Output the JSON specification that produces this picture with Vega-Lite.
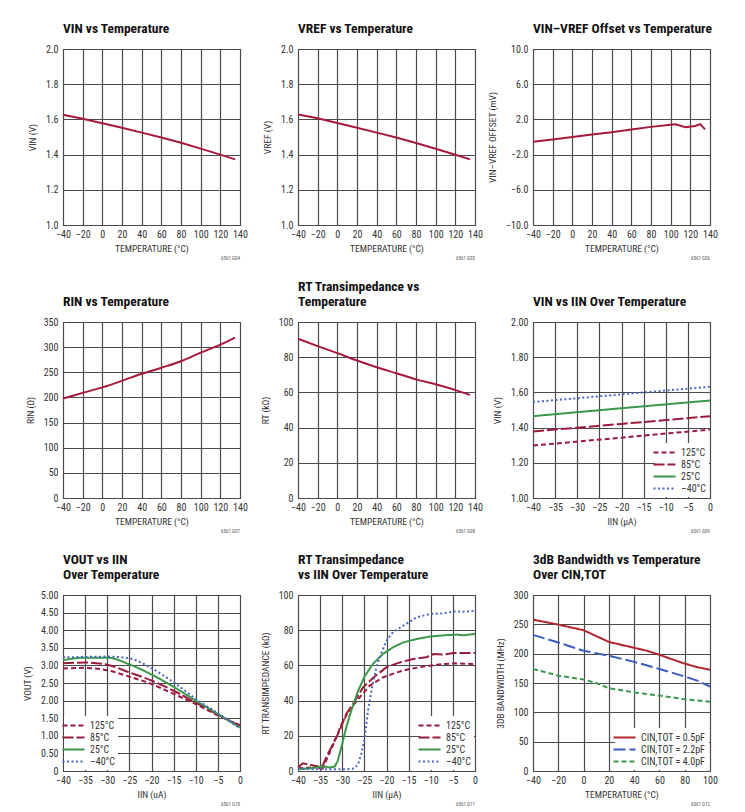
{
  "$schema": "https://vega.github.io/schema/vega-lite/v6.json",
  "background": "white",
  "padding": {"left": 22, "top": 21, "right": 5, "bottom": 5},
  "columns": 3,
  "bounds": "flush",
  "spacing": {"row": 97, "column": 58},
  "resolve": {"scale": {"color": "independent", "strokeDash": "independent", "x": "independent", "y": "independent"}, "legend": {"color": "independent", "strokeDash": "independent"}},
  "config": {
    "font": "Liberation Sans Narrow, Roboto Condensed, DejaVu Sans Condensed, Arial Narrow, Liberation Sans, sans-serif",
    "view": {"stroke": "#000000", "strokeWidth": 1},
    "axis": {"domain": false, "ticks": false, "grid": true, "gridColor": "#4a4a4a", "gridWidth": 1.2, "gridOpacity": 1, "labelFontSize": 10, "labelColor": "#333333", "labelPadding": 4, "labelFlush": false, "labelOverlap": false, "titleFontSize": 9.5, "titleFontWeight": "normal", "titleColor": "#333333"},
    "axisX": {"titlePadding": 4},
    "axisY": {"titlePadding": 8, "labelPadding": 5},
    "title": {"anchor": "start", "frame": "group", "fontSize": 13.5, "fontWeight": "bold", "color": "#111111", "offset": 9, "baseline": "bottom", "lineHeight": 15},
    "legend": {"symbolType": "M-2,0H2", "symbolSize": 121, "symbolStrokeWidth": 2, "labelFontSize": 10, "labelColor": "#333333", "fillColor": "white", "padding": 3, "rowPadding": 0, "offset": 1, "labelOffset": 10},
    "line": {"strokeWidth": 2},
    "text": {"fontSize": 5, "color": "#555555", "align": "right", "baseline": "middle"}
  },
  "concat": [
    {
      "width": 177, "height": 176,
      "title": {"text": "VIN vs Temperature"},
      "layer": [
        {
          "data": {"values": [{"t": -40, "v": 1.626}, {"t": -20, "v": 1.604}, {"t": 0, "v": 1.578}, {"t": 20, "v": 1.552}, {"t": 40, "v": 1.525}, {"t": 60, "v": 1.497}, {"t": 80, "v": 1.467}, {"t": 100, "v": 1.434}, {"t": 120, "v": 1.400}, {"t": 135, "v": 1.373}]},
          "mark": {"type": "line", "color": "#a6193c"},
          "encoding": {
            "x": {"field": "t", "type": "quantitative", "scale": {"domain": [-40, 140], "nice": false}, "axis": {"values": [-40, -20, 0, 20, 40, 60, 80, 100, 120, 140], "title": "TEMPERATURE (°C)"}},
            "y": {"field": "v", "type": "quantitative", "scale": {"domain": [1, 2], "nice": false, "zero": false}, "axis": {"values": [1, 1.2, 1.4, 1.6, 1.8, 2], "format": ".1f", "title": "VIN (V)"}}
          }
        },
        {
          "data": {"values": [{"code": "6561 G04"}]},
          "mark": {"type": "text", "dy": 33},
          "encoding": {"x": {"value": "width"}, "y": {"value": "height"}, "text": {"field": "code"}}
        }
      ]
    },
    {
      "width": 177, "height": 176,
      "title": {"text": "VREF vs Temperature"},
      "layer": [
        {
          "data": {"values": [{"t": -40, "v": 1.628}, {"t": -20, "v": 1.606}, {"t": 0, "v": 1.580}, {"t": 20, "v": 1.553}, {"t": 40, "v": 1.525}, {"t": 60, "v": 1.497}, {"t": 80, "v": 1.466}, {"t": 100, "v": 1.433}, {"t": 120, "v": 1.399}, {"t": 135, "v": 1.373}]},
          "mark": {"type": "line", "color": "#a6193c"},
          "encoding": {
            "x": {"field": "t", "type": "quantitative", "scale": {"domain": [-40, 140], "nice": false}, "axis": {"values": [-40, -20, 0, 20, 40, 60, 80, 100, 120, 140], "title": "TEMPERATURE (°C)"}},
            "y": {"field": "v", "type": "quantitative", "scale": {"domain": [1, 2], "nice": false, "zero": false}, "axis": {"values": [1, 1.2, 1.4, 1.6, 1.8, 2], "format": ".1f", "title": "VREF (V)"}}
          }
        },
        {
          "data": {"values": [{"code": "6561 G05"}]},
          "mark": {"type": "text", "dy": 33},
          "encoding": {"x": {"value": "width"}, "y": {"value": "height"}, "text": {"field": "code"}}
        }
      ]
    },
    {
      "width": 177, "height": 176,
      "title": {"text": "VIN–VREF Offset vs Temperature"},
      "layer": [
        {
          "data": {"values": [{"t": -40, "v": -0.55}, {"t": -20, "v": -0.28}, {"t": 0, "v": 0.0}, {"t": 20, "v": 0.28}, {"t": 40, "v": 0.55}, {"t": 60, "v": 0.85}, {"t": 80, "v": 1.15}, {"t": 100, "v": 1.4}, {"t": 105, "v": 1.45}, {"t": 115, "v": 1.1}, {"t": 125, "v": 1.25}, {"t": 130, "v": 1.47}, {"t": 135, "v": 0.86}]},
          "mark": {"type": "line", "color": "#a6193c"},
          "encoding": {
            "x": {"field": "t", "type": "quantitative", "scale": {"domain": [-40, 140], "nice": false}, "axis": {"values": [-40, -20, 0, 20, 40, 60, 80, 100, 120, 140], "title": "TEMPERATURE (°C)"}},
            "y": {"field": "v", "type": "quantitative", "scale": {"domain": [-10, 10], "nice": false}, "axis": {"values": [-10, -6, -2, 2, 6, 10], "format": ".1f", "title": "VIN–VREF OFFSET (mV)"}}
          }
        },
        {
          "data": {"values": [{"code": "6561 G06"}]},
          "mark": {"type": "text", "dy": 33},
          "encoding": {"x": {"value": "width"}, "y": {"value": "height"}, "text": {"field": "code"}}
        }
      ]
    },
    {
      "width": 177, "height": 176,
      "title": {"text": "RIN vs Temperature"},
      "layer": [
        {
          "data": {"values": [{"t": -40, "v": 198}, {"t": -20, "v": 209}, {"t": 0, "v": 220}, {"t": 20, "v": 233}, {"t": 40, "v": 247}, {"t": 60, "v": 259}, {"t": 80, "v": 272}, {"t": 100, "v": 289}, {"t": 120, "v": 305}, {"t": 135, "v": 319}]},
          "mark": {"type": "line", "color": "#a6193c", "interpolate": "monotone"},
          "encoding": {
            "x": {"field": "t", "type": "quantitative", "scale": {"domain": [-40, 140], "nice": false}, "axis": {"values": [-40, -20, 0, 20, 40, 60, 80, 100, 120, 140], "title": "TEMPERATURE (°C)"}},
            "y": {"field": "v", "type": "quantitative", "scale": {"domain": [0, 350], "nice": false}, "axis": {"values": [0, 50, 100, 150, 200, 250, 300, 350], "title": "RIN (Ω)"}}
          }
        },
        {
          "data": {"values": [{"code": "6561 G07"}]},
          "mark": {"type": "text", "dy": 33},
          "encoding": {"x": {"value": "width"}, "y": {"value": "height"}, "text": {"field": "code"}}
        }
      ]
    },
    {
      "width": 177, "height": 176,
      "title": {"text": ["RT Transimpedance vs", "Temperature"]},
      "layer": [
        {
          "data": {"values": [{"t": -40, "v": 90.5}, {"t": -20, "v": 86.3}, {"t": 0, "v": 82.3}, {"t": 20, "v": 78.1}, {"t": 40, "v": 74.3}, {"t": 60, "v": 70.9}, {"t": 80, "v": 67.4}, {"t": 100, "v": 64.6}, {"t": 120, "v": 61.3}, {"t": 135, "v": 58.6}]},
          "mark": {"type": "line", "color": "#a6193c", "interpolate": "monotone"},
          "encoding": {
            "x": {"field": "t", "type": "quantitative", "scale": {"domain": [-40, 140], "nice": false}, "axis": {"values": [-40, -20, 0, 20, 40, 60, 80, 100, 120, 140], "title": "TEMPERATURE (°C)"}},
            "y": {"field": "v", "type": "quantitative", "scale": {"domain": [0, 100], "nice": false}, "axis": {"values": [0, 20, 40, 60, 80, 100], "title": "RT (kΩ)"}}
          }
        },
        {
          "data": {"values": [{"code": "6561 G08"}]},
          "mark": {"type": "text", "dy": 33},
          "encoding": {"x": {"value": "width"}, "y": {"value": "height"}, "text": {"field": "code"}}
        }
      ]
    },
    {
      "width": 177, "height": 176,
      "title": {"text": "VIN vs IIN Over Temperature"},
      "layer": [
        {
          "data": {"values": [
            {"s": "125°C", "i": -40, "v": 1.298}, {"s": "125°C", "i": -20, "v": 1.343}, {"s": "125°C", "i": 0, "v": 1.389},
            {"s": "85°C", "i": -40, "v": 1.378}, {"s": "85°C", "i": -20, "v": 1.421}, {"s": "85°C", "i": 0, "v": 1.465},
            {"s": "25°C", "i": -40, "v": 1.465}, {"s": "25°C", "i": -20, "v": 1.510}, {"s": "25°C", "i": 0, "v": 1.554},
            {"s": "–40°C", "i": -40, "v": 1.545}, {"s": "–40°C", "i": -20, "v": 1.589}, {"s": "–40°C", "i": 0, "v": 1.632}
          ]},
          "mark": {"type": "line"},
          "encoding": {
            "x": {"field": "i", "type": "quantitative", "scale": {"domain": [-40, 0], "nice": false}, "axis": {"values": [-40, -35, -30, -25, -20, -15, -10, -5, 0], "title": "IIN (µA)"}},
            "y": {"field": "v", "type": "quantitative", "scale": {"domain": [1, 2], "nice": false, "zero": false}, "axis": {"values": [1, 1.2, 1.4, 1.6, 1.8, 2], "format": ".2f", "title": "VIN (V)"}},
            "color": {"field": "s", "type": "nominal", "scale": {"domain": ["125°C", "85°C", "25°C", "–40°C"], "range": ["#9a1c3c", "#9a1c3c", "#3a9848", "#4a67c8"]}, "legend": {"orient": "bottom-right", "title": null}},
            "strokeDash": {"field": "s", "type": "nominal", "scale": {"domain": ["125°C", "85°C", "25°C", "–40°C"], "range": [[5, 3], [11, 3], [1, 0], [2, 2.5]]}, "legend": {"orient": "bottom-right", "title": null}}
          }
        },
        {
          "data": {"values": [{"code": "6561 G09"}]},
          "mark": {"type": "text", "dy": 33},
          "encoding": {"x": {"value": "width"}, "y": {"value": "height"}, "text": {"field": "code"}}
        }
      ]
    },
    {
      "width": 177, "height": 176,
      "title": {"text": ["VOUT vs IIN", "Over Temperature"]},
      "layer": [
        {
          "data": {"values": [
            {"s": "125°C", "i": -40, "v": 2.91}, {"s": "125°C", "i": -35, "v": 2.93}, {"s": "125°C", "i": -30, "v": 2.86}, {"s": "125°C", "i": -25, "v": 2.68}, {"s": "125°C", "i": -20, "v": 2.47}, {"s": "125°C", "i": -15, "v": 2.19}, {"s": "125°C", "i": -10, "v": 1.9}, {"s": "125°C", "i": -5, "v": 1.58}, {"s": "125°C", "i": 0, "v": 1.3},
            {"s": "85°C", "i": -40, "v": 3.06}, {"s": "85°C", "i": -35, "v": 3.08}, {"s": "85°C", "i": -30, "v": 3.02}, {"s": "85°C", "i": -25, "v": 2.8}, {"s": "85°C", "i": -20, "v": 2.57}, {"s": "85°C", "i": -15, "v": 2.28}, {"s": "85°C", "i": -10, "v": 1.94}, {"s": "85°C", "i": -5, "v": 1.6}, {"s": "85°C", "i": 0, "v": 1.28},
            {"s": "25°C", "i": -40, "v": 3.15}, {"s": "25°C", "i": -35, "v": 3.22}, {"s": "25°C", "i": -30, "v": 3.22}, {"s": "25°C", "i": -25, "v": 3.03}, {"s": "25°C", "i": -20, "v": 2.74}, {"s": "25°C", "i": -15, "v": 2.39}, {"s": "25°C", "i": -10, "v": 2.0}, {"s": "25°C", "i": -5, "v": 1.62}, {"s": "25°C", "i": 0, "v": 1.23},
            {"s": "–40°C", "i": -40, "v": 3.23}, {"s": "–40°C", "i": -35, "v": 3.24}, {"s": "–40°C", "i": -30, "v": 3.25}, {"s": "–40°C", "i": -25, "v": 3.2}, {"s": "–40°C", "i": -20, "v": 2.92}, {"s": "–40°C", "i": -15, "v": 2.52}, {"s": "–40°C", "i": -10, "v": 2.05}, {"s": "–40°C", "i": -5, "v": 1.64}, {"s": "–40°C", "i": 0, "v": 1.22}
          ]},
          "mark": {"type": "line", "interpolate": "monotone"},
          "encoding": {
            "x": {"field": "i", "type": "quantitative", "scale": {"domain": [-40, 0], "nice": false}, "axis": {"values": [-40, -35, -30, -25, -20, -15, -10, -5, 0], "title": "IIN (uA)"}},
            "y": {"field": "v", "type": "quantitative", "scale": {"domain": [0, 5], "nice": false}, "axis": {"values": [0, 0.5, 1, 1.5, 2, 2.5, 3, 3.5, 4, 4.5, 5], "labelExpr": "datum.value == 0 ? '0' : format(datum.value, '.2f')", "title": "VOUT (V)"}},
            "color": {"field": "s", "type": "nominal", "scale": {"domain": ["125°C", "85°C", "25°C", "–40°C"], "range": ["#9a1c3c", "#9a1c3c", "#3a9848", "#4a67c8"]}, "legend": {"orient": "bottom-left", "title": null}},
            "strokeDash": {"field": "s", "type": "nominal", "scale": {"domain": ["125°C", "85°C", "25°C", "–40°C"], "range": [[5, 3], [11, 3], [1, 0], [2, 2.5]]}, "legend": {"orient": "bottom-left", "title": null}}
          }
        },
        {
          "data": {"values": [{"code": "6561 G10"}]},
          "mark": {"type": "text", "dy": 33},
          "encoding": {"x": {"value": "width"}, "y": {"value": "height"}, "text": {"field": "code"}}
        }
      ]
    },
    {
      "width": 177, "height": 176,
      "title": {"text": ["RT Transimpedance", "vs IIN Over Temperature"]},
      "layer": [
        {
          "data": {"values": [
            {"s": "125°C", "i": -40, "v": 1.5}, {"s": "125°C", "i": -37.4, "v": 2}, {"s": "125°C", "i": -35.9, "v": 3}, {"s": "125°C", "i": -34.4, "v": 1.5}, {"s": "125°C", "i": -33.3, "v": 7.8}, {"s": "125°C", "i": -31.7, "v": 17}, {"s": "125°C", "i": -30.2, "v": 26.5}, {"s": "125°C", "i": -28.3, "v": 35}, {"s": "125°C", "i": -26.1, "v": 41.7}, {"s": "125°C", "i": -23.8, "v": 48.5}, {"s": "125°C", "i": -20.8, "v": 53.2}, {"s": "125°C", "i": -17.7, "v": 56}, {"s": "125°C", "i": -14.7, "v": 58}, {"s": "125°C", "i": -11.7, "v": 59.3}, {"s": "125°C", "i": -8.7, "v": 60.4}, {"s": "125°C", "i": -4.8, "v": 61.2}, {"s": "125°C", "i": 0, "v": 60.8},
            {"s": "85°C", "i": -40, "v": 2}, {"s": "85°C", "i": -38.9, "v": 4.4}, {"s": "85°C", "i": -37.4, "v": 3.6}, {"s": "85°C", "i": -35.9, "v": 2.7}, {"s": "85°C", "i": -34.8, "v": 1.1}, {"s": "85°C", "i": -33.6, "v": 7.8}, {"s": "85°C", "i": -32.1, "v": 15.3}, {"s": "85°C", "i": -30.6, "v": 22.9}, {"s": "85°C", "i": -29.1, "v": 32.4}, {"s": "85°C", "i": -27.6, "v": 38}, {"s": "85°C", "i": -25.3, "v": 47.5}, {"s": "85°C", "i": -23, "v": 53}, {"s": "85°C", "i": -20, "v": 59}, {"s": "85°C", "i": -17, "v": 61.7}, {"s": "85°C", "i": -14, "v": 63.6}, {"s": "85°C", "i": -11, "v": 64.6}, {"s": "85°C", "i": -9.4, "v": 66.5}, {"s": "85°C", "i": -7.1, "v": 66.2}, {"s": "85°C", "i": -4.8, "v": 67}, {"s": "85°C", "i": 0, "v": 67},
            {"s": "25°C", "i": -40, "v": 1}, {"s": "25°C", "i": -37.4, "v": 1.5}, {"s": "25°C", "i": -35.9, "v": 2}, {"s": "25°C", "i": -34.4, "v": 2.7}, {"s": "25°C", "i": -32.9, "v": 2}, {"s": "25°C", "i": -31.7, "v": 2.5}, {"s": "25°C", "i": -31, "v": 5.9}, {"s": "25°C", "i": -30.2, "v": 13.4}, {"s": "25°C", "i": -29.1, "v": 24.8}, {"s": "25°C", "i": -28, "v": 34}, {"s": "25°C", "i": -26.4, "v": 45.6}, {"s": "25°C", "i": -24.9, "v": 54}, {"s": "25°C", "i": -23, "v": 61}, {"s": "25°C", "i": -20.8, "v": 66.5}, {"s": "25°C", "i": -18.5, "v": 70.3}, {"s": "25°C", "i": -16.2, "v": 73.1}, {"s": "25°C", "i": -13.2, "v": 75}, {"s": "25°C", "i": -10.2, "v": 76.4}, {"s": "25°C", "i": -7.1, "v": 77.1}, {"s": "25°C", "i": -4.1, "v": 77.5}, {"s": "25°C", "i": -2.6, "v": 77.1}, {"s": "25°C", "i": 0, "v": 77.9},
            {"s": "–40°C", "i": -40, "v": 1.5}, {"s": "–40°C", "i": -37, "v": 1}, {"s": "–40°C", "i": -33, "v": 1}, {"s": "–40°C", "i": -30, "v": 1}, {"s": "–40°C", "i": -28, "v": 1.2}, {"s": "–40°C", "i": -27.2, "v": 1.5}, {"s": "–40°C", "i": -26.4, "v": 4}, {"s": "–40°C", "i": -25.7, "v": 9.7}, {"s": "–40°C", "i": -24.9, "v": 19}, {"s": "–40°C", "i": -24.2, "v": 34}, {"s": "–40°C", "i": -23.4, "v": 45.6}, {"s": "–40°C", "i": -22.3, "v": 59}, {"s": "–40°C", "i": -21.1, "v": 67.4}, {"s": "–40°C", "i": -20, "v": 74}, {"s": "–40°C", "i": -18.5, "v": 79}, {"s": "–40°C", "i": -16.2, "v": 82.6}, {"s": "–40°C", "i": -13.2, "v": 87.3}, {"s": "–40°C", "i": -10.2, "v": 89.2}, {"s": "–40°C", "i": -7.1, "v": 89.6}, {"s": "–40°C", "i": -4.8, "v": 90.7}, {"s": "–40°C", "i": -2.6, "v": 90.5}, {"s": "–40°C", "i": 0, "v": 91.1}
          ]},
          "mark": {"type": "line"},
          "encoding": {
            "x": {"field": "i", "type": "quantitative", "scale": {"domain": [-40, 0], "nice": false}, "axis": {"values": [-40, -35, -30, -25, -20, -15, -10, -5, 0], "title": "IIN (µA)"}},
            "y": {"field": "v", "type": "quantitative", "scale": {"domain": [0, 100], "nice": false}, "axis": {"values": [0, 20, 40, 60, 80, 100], "title": "RT TRANSIMPEDANCE (kΩ)"}},
            "color": {"field": "s", "type": "nominal", "scale": {"domain": ["125°C", "85°C", "25°C", "–40°C"], "range": ["#9a1c3c", "#9a1c3c", "#3a9848", "#4a67c8"]}, "legend": {"orient": "bottom-right", "title": null}},
            "strokeDash": {"field": "s", "type": "nominal", "scale": {"domain": ["125°C", "85°C", "25°C", "–40°C"], "range": [[5, 3], [11, 3], [1, 0], [2, 2.5]]}, "legend": {"orient": "bottom-right", "title": null}}
          }
        },
        {
          "data": {"values": [{"code": "6561 G11"}]},
          "mark": {"type": "text", "dy": 33},
          "encoding": {"x": {"value": "width"}, "y": {"value": "height"}, "text": {"field": "code"}}
        }
      ]
    },
    {
      "width": 177, "height": 176,
      "title": {"text": ["3dB Bandwidth vs Temperature", "Over CIN,TOT"]},
      "layer": [
        {
          "data": {"values": [
            {"s": "CIN,TOT = 0.5pF", "t": -40, "v": 258}, {"s": "CIN,TOT = 0.5pF", "t": -20, "v": 249.5}, {"s": "CIN,TOT = 0.5pF", "t": 0, "v": 240}, {"s": "CIN,TOT = 0.5pF", "t": 20, "v": 220}, {"s": "CIN,TOT = 0.5pF", "t": 40, "v": 210}, {"s": "CIN,TOT = 0.5pF", "t": 50, "v": 205}, {"s": "CIN,TOT = 0.5pF", "t": 60, "v": 198}, {"s": "CIN,TOT = 0.5pF", "t": 80, "v": 183}, {"s": "CIN,TOT = 0.5pF", "t": 90, "v": 177}, {"s": "CIN,TOT = 0.5pF", "t": 100, "v": 172.5},
            {"s": "CIN,TOT = 2.2pF", "t": -40, "v": 232}, {"s": "CIN,TOT = 2.2pF", "t": -20, "v": 219}, {"s": "CIN,TOT = 2.2pF", "t": 0, "v": 205}, {"s": "CIN,TOT = 2.2pF", "t": 20, "v": 196.5}, {"s": "CIN,TOT = 2.2pF", "t": 40, "v": 186}, {"s": "CIN,TOT = 2.2pF", "t": 60, "v": 174}, {"s": "CIN,TOT = 2.2pF", "t": 80, "v": 161}, {"s": "CIN,TOT = 2.2pF", "t": 90, "v": 154}, {"s": "CIN,TOT = 2.2pF", "t": 100, "v": 144},
            {"s": "CIN,TOT = 4.0pF", "t": -40, "v": 174}, {"s": "CIN,TOT = 4.0pF", "t": -20, "v": 162.5}, {"s": "CIN,TOT = 4.0pF", "t": 0, "v": 156}, {"s": "CIN,TOT = 4.0pF", "t": 10, "v": 150}, {"s": "CIN,TOT = 4.0pF", "t": 20, "v": 141}, {"s": "CIN,TOT = 4.0pF", "t": 40, "v": 134}, {"s": "CIN,TOT = 4.0pF", "t": 60, "v": 128.5}, {"s": "CIN,TOT = 4.0pF", "t": 80, "v": 122.5}, {"s": "CIN,TOT = 4.0pF", "t": 100, "v": 118}
          ]},
          "mark": {"type": "line"},
          "encoding": {
            "x": {"field": "t", "type": "quantitative", "scale": {"domain": [-40, 100], "nice": false}, "axis": {"values": [-40, -20, 0, 20, 40, 60, 80, 100], "title": "TEMPERATURE (°C)"}},
            "y": {"field": "v", "type": "quantitative", "scale": {"domain": [0, 300], "nice": false}, "axis": {"values": [0, 50, 100, 150, 200, 250, 300], "title": "3DB BANDWIDTH (MHz)"}},
            "color": {"field": "s", "type": "nominal", "scale": {"domain": ["CIN,TOT = 0.5pF", "CIN,TOT = 2.2pF", "CIN,TOT = 4.0pF"], "range": ["#b0262e", "#3a5bbf", "#3b9a4b"]}, "legend": {"orient": "bottom-right", "title": null}},
            "strokeDash": {"field": "s", "type": "nominal", "scale": {"domain": ["CIN,TOT = 0.5pF", "CIN,TOT = 2.2pF", "CIN,TOT = 4.0pF"], "range": [[1, 0], [12, 4], [5, 3]]}, "legend": {"orient": "bottom-right", "title": null}}
          }
        },
        {
          "data": {"values": [{"code": "6561 G12"}]},
          "mark": {"type": "text", "dy": 33},
          "encoding": {"x": {"value": "width"}, "y": {"value": "height"}, "text": {"field": "code"}}
        }
      ]
    }
  ]
}
